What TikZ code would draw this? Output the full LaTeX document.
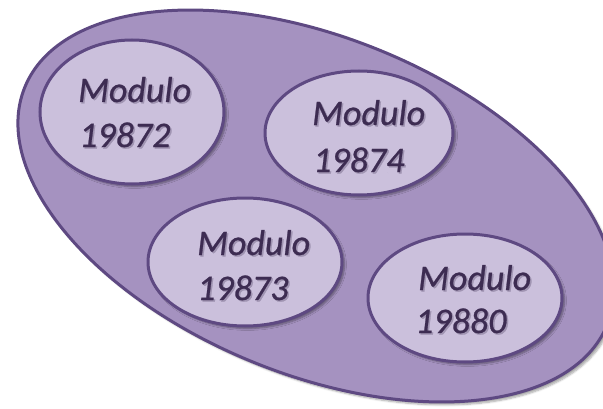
\documentclass[tikz,border=0pt]{standalone}
\usepackage{fontspec}
\setmainfont{Carlito}
\newfontfamily\lblfont{Carlito}[UprightFont=*-Italic, RawFeature={embolden=0.7}]
\usetikzlibrary{shapes.geometric,shadows.blur}

\definecolor{outerfill}{RGB}{165,146,192}
\definecolor{innerfill}{RGB}{203,192,220}
\definecolor{rimcol}{RGB}{94,73,130}
\definecolor{inkcol}{RGB}{61,44,82}
\colorlet{textshade}{inkcol!30!innerfill}

% text with a soft offset shade behind it
\newcommand{\shadedtext}[1]{\rlap{\kern1.5pt\raisebox{-1.5pt}{\color{textshade}#1}}#1}

\tikzset{
  cluster/.style={ellipse, draw=rimcol, fill=outerfill, line width=3pt, inner sep=0pt,
    blur shadow={shadow xshift=3pt, shadow yshift=-3pt, shadow opacity=35, shadow blur steps=6}},
  module/.style={ellipse, draw=rimcol, fill=innerfill, line width=3pt, inner sep=0pt,
    blur shadow={shadow xshift=2.5pt, shadow yshift=-2.5pt, shadow opacity=40, shadow blur steps=6}},
  lbl/.style={anchor=base west, inner sep=0pt, text=inkcol,
    font=\fontsize{36}{44}\selectfont\lblfont}
}

\begin{document}
\begin{tikzpicture}[x=1pt, y=1pt]
  \useasboundingbox (0,0) rectangle (603,408);
  \clip (0,0) rectangle (603,408);

  % enclosing group
  \node[cluster, rotate=-22.2, minimum width=629pt, minimum height=336.6pt] (grp) at (316,202) {};

  % the four modules
  \node[module, minimum width=184pt, minimum height=144pt] (m1) at (132,296) {};
  \node[module, minimum width=188pt, minimum height=124pt] (m2) at (359,275) {};
  \node[module, minimum width=194pt, minimum height=128pt] (m3) at (245,146) {};
  \node[module, minimum width=194pt, minimum height=128pt] (m4) at (465,110) {};

  % labels
  \node[lbl] (m1a) at (78,306) {\shadedtext{Modulo}};
  \node[lbl] (m1b) at (79,261) {\shadedtext{19872}};
  \node[lbl] (m2a) at (312,283) {\shadedtext{Modulo}};
  \node[lbl] (m2b) at (313,236) {\shadedtext{19874}};
  \node[lbl] (m3a) at (197,153) {\shadedtext{Modulo}};
  \node[lbl] (m3b) at (197,108) {\shadedtext{19873}};
  \node[lbl] (m4a) at (418,118) {\shadedtext{Modulo}};
  \node[lbl] (m4b) at (415,75) {\shadedtext{19880}};
\end{tikzpicture}
\end{document}
